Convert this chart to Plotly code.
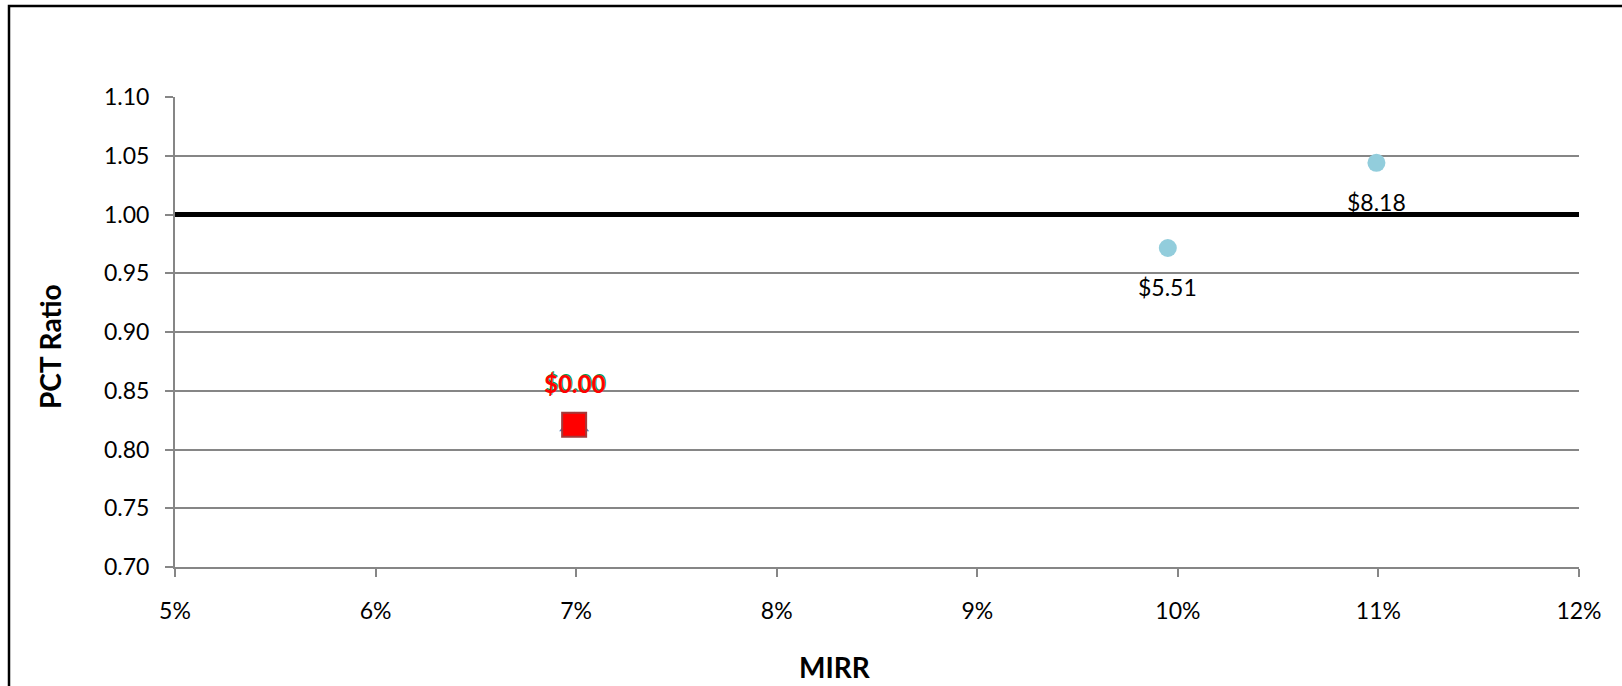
import plotly.graph_objects as go

# Data
mirr_points = [0.0995, 0.1099]
pct_points = [0.9715, 1.044]
point_labels = ["$5.51", "$8.18"]

mirr_square = [0.0699]
pct_square = [0.821]
square_labels = ["$0.00"]

ref_x = [0.05, 0.12]
ref_y = [1.0, 1.0]

x_range = [0.05, 0.12]
y_range = [0.70, 1.10]

FONT = "Lato"

fig = go.Figure()

fig.add_trace(go.Scatter(x=ref_x, y=ref_y, mode="lines",
                         line=dict(color="black", width=5), hoverinfo="skip"))
fig.add_trace(go.Scatter(x=mirr_points, y=pct_points, mode="markers",
                         marker=dict(color="#92CDDC", size=18, line=dict(width=0))))
fig.add_trace(go.Scatter(x=mirr_square, y=pct_square, mode="markers",
                         marker=dict(symbol="triangle-up", color="#4F81BD", size=26)))
fig.add_trace(go.Scatter(x=mirr_square, y=pct_square, mode="markers",
                         marker=dict(symbol="square", color="#FF0000", size=24,
                                     line=dict(color="#A33A3A", width=2))))

annotations = []
for x, y, t in zip(mirr_points, pct_points, point_labels):
    annotations.append(dict(x=x, y=y, xref="x", yref="y", text=t, showarrow=False,
                            yshift=-39, font=dict(family=FONT, size=23, color="black")))
for x, y, t in zip(mirr_square, pct_square, square_labels):
    annotations.append(dict(x=x, y=y, xref="x", yref="y", text="<b>" + t + "</b>", showarrow=False,
                            yshift=42, xshift=1, font=dict(family=FONT, size=24, color="#00A050")))
    annotations.append(dict(x=x, y=y, xref="x", yref="y", text="<b>" + t + "</b>", showarrow=False,
                            yshift=41, font=dict(family=FONT, size=24, color="#FF0000")))

annotations.append(dict(x=835, y=667, xref="paper", yref="paper", text="<b>MIRR</b>",
                        xanchor="center", yanchor="middle",
                        showarrow=False, font=dict(family=FONT, size=28, color="black")))
annotations.append(dict(x=50, y=347, xref="paper", yref="paper", text="<b>PCT Ratio</b>",
                        xanchor="center", yanchor="middle",
                        textangle=-90, showarrow=False, font=dict(family=FONT, size=28, color="black")))

# convert pixel-based positions for the axis titles to paper coords
L, R, T, B = 175, 43, 97, 119
W, H = 1622, 686
pw, ph = W - L - R, H - T - B
for a in annotations[-2:]:
    a["x"] = (a["x"] - L) / pw
    a["y"] = (H - B - a["y"]) / ph

fig.update_layout(
    width=W, height=H,
    margin=dict(l=L, r=R, t=T, b=B),
    paper_bgcolor="white", plot_bgcolor="white",
    showlegend=False,
    font=dict(family=FONT, size=23, color="black"),
    annotations=annotations,
    shapes=[dict(type="rect", xref="paper", yref="paper",
                 x0=(9 - L) / pw, x1=(W + 20 - L) / pw,
                 y0=(H - B - (H + 20)) / ph, y1=(H - B - 6) / ph,
                 line=dict(color="black", width=2.5), fillcolor="rgba(0,0,0,0)", layer="above")],
)

fig.update_xaxes(range=x_range, dtick=0.01, tick0=0.05, tickformat=".0%",
                 showgrid=False, zeroline=False, showline=True, linecolor="#868686", linewidth=2,
                 ticks="outside", ticklen=8, tickwidth=2, tickcolor="#868686",
                 ticklabelstandoff=14, tickfont=dict(family=FONT, size=23, color="black"))
fig.update_yaxes(range=y_range, dtick=0.05, tick0=0.70, tickformat=".2f",
                 showgrid=True, gridcolor="#868686", gridwidth=2, zeroline=False,
                 showline=True, linecolor="#868686", linewidth=2,
                 ticks="outside", ticklen=8, tickwidth=2, tickcolor="#868686",
                 ticklabelstandoff=11, tickfont=dict(family=FONT, size=23, color="black"))

fig.write_html("out.html", config={"displayModeBar": False},
               post_script="document.body.style.margin='0';document.body.style.overflow='hidden';")
